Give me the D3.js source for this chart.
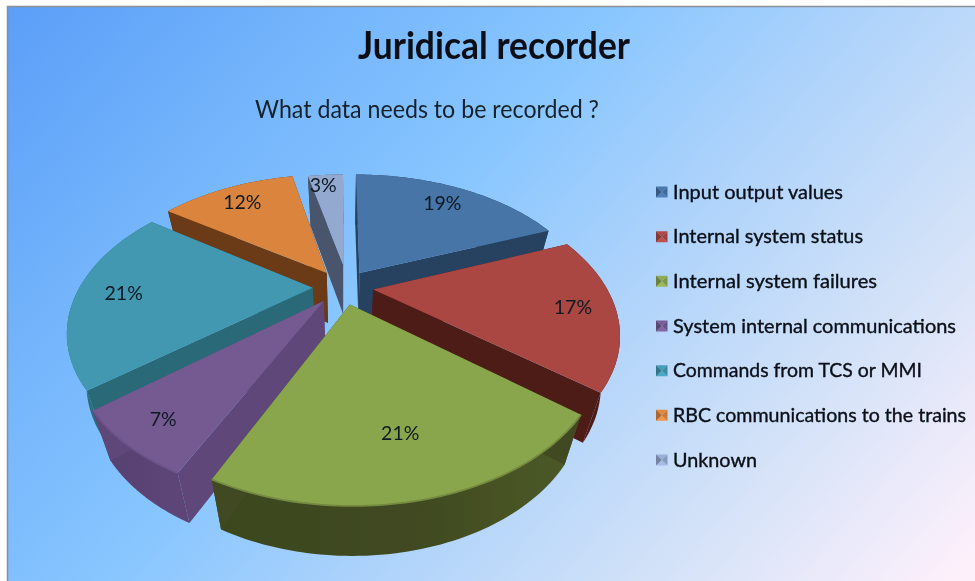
<!DOCTYPE html>
<html><head><meta charset="utf-8">
<script src="https://cdn.jsdelivr.net/npm/d3@7"></script>
<style>html,body{margin:0;padding:0;background:#fff}svg{display:block}</style>
</head><body><svg id="c" width="975" height="581"></svg>
<script>
// ---- data ----
const categories = ["Input output values","Internal system status","Internal system failures","System internal communications","Commands from TCS or MMI","RBC communications to the trains","Unknown"];
const values = [19,17,21.3,7,20.7,12,3.4];
const labels = ["19%","17%","21%","7%","21%","12%","3%"];
const topColors  = ["#4674a8","#aa4643","#8aa64e","#745a92","#4298b0","#db843d","#93a9cf"];
const wallColors = ["#254360","#4e1b18","#3f4a20","#5a4374","#2b6a78","#6a3a12","#48556c"];
const title = "Juridical recorder";
const subtitle = "What data needs to be recorded ?";

// ---- projection (tilted, perspective pie) ----
const W=975,H=581, cx=343, cy=287, A=233, B=0.28, C=133;
const depth=50, shrink=0.93, vx=346;
const explode=[.13,.13,.13,.13,.13,.13,.18];
const radius=[1,1,1,1,1,1,.93];
const labelR=[.80,.83,.73,.85,.80,.815,.81];
const paint=[6,5,0,4,1,3,2];            // back-to-front order

function proj(u,v){const s=1+B*v;return [cx+A*u/s, cy-C*v/s];}
function low(p){return [vx+(p[0]-vx)*shrink, p[1]+depth];}

const svg=d3.select("#c");
const defs=svg.append("defs");
const bg=defs.append("linearGradient").attr("id","bg").attr("gradientUnits","userSpaceOnUse")
  .attr("x1",60).attr("y1",-60).attr("x2",880).attr("y2",660);
[[0,"#5a9ef8"],[.2,"#71b2fb"],[.42,"#88c6ff"],[.6,"#aed3fb"],[.78,"#d0e1f8"],[1,"#fdf0fb"]]
  .forEach(([o,c])=>bg.append("stop").attr("offset",o).attr("stop-color",c));
defs.append("filter").attr("id","soft").attr("x","-5%").attr("y","-5%").attr("width","110%").attr("height","110%")
  .append("feGaussianBlur").attr("stdDeviation",0.55);
defs.append("filter").attr("id","softText").append("feGaussianBlur").attr("stdDeviation",0.3);

svg.append("rect").attr("x",7.5).attr("y",6.5).attr("width",W).attr("height",H)
  .attr("fill","url(#bg)").attr("stroke","#8a8f98").attr("stroke-width",1.5);

const pie=d3.pie().sort(null).value(d=>d);
const arcs=pie(values);
const line=d3.line();
const color=d3.scaleOrdinal(d3.range(values.length),topColors);
const wall=d3.scaleOrdinal(d3.range(values.length),wallColors);

const gPie=svg.append("g").attr("filter","url(#soft)");
function dir(a){return [Math.sin(a),Math.cos(a)];}

paint.forEach(i=>{
  const a=arcs[i], mid=(a.startAngle+a.endAngle)/2, [mx,my]=dir(mid), e=explode[i], R=radius[i];
  const ox = i===6 ? 0 : e*mx, oy = e*my;
  const apex=proj(ox,oy);
  const angs=d3.range(0,61).map(k=>a.startAngle+(a.endAngle-a.startAngle)*k/60);
  const rim=angs.map(t=>{const [s,c]=dir(t);return proj(ox+R*s,oy+R*c);});
  const rimLow=rim.map(low);
  const apexLow=low(apex);
  const gid="w"+i, g=defs.append("linearGradient").attr("id",gid).attr("gradientUnits","userSpaceOnUse")
    .attr("x1",rim[0][0]).attr("x2",rim[60][0]).attr("y1",0).attr("y2",0);
  const wc=d3.color(wall(i));
  g.append("stop").attr("offset",0).attr("stop-color",i===2?wc.brighter(.55):wc.brighter(.1));
  g.append("stop").attr("offset",.45).attr("stop-color",wc);
  g.append("stop").attr("offset",1).attr("stop-color",wc.darker(.1));
  gPie.append("path").attr("d",line(rim.concat(rimLow.slice().reverse()))+"Z").attr("fill",`url(#${gid})`);
  const sideCol=(i===3)?d3.color(wall(i)).brighter(.12):wall(i);
  gPie.append("path").attr("d",line([apex,rim[0],rimLow[0],apexLow])+"Z").attr("fill",sideCol);
  gPie.append("path").attr("d",line([apex,rim[60],rimLow[60],apexLow])+"Z").attr("fill",sideCol);
  gPie.append("path").attr("d",line([apex].concat(rim))+"Z").attr("fill",color(i));
  if(i===2||i===3){
    gPie.append("path").attr("d",line(rim)).attr("fill","none")
      .attr("stroke",d3.interpolateRgb(color(i),wall(i))(.3)).attr("stroke-width",1.8);
  }
});

// data labels
const gLab=svg.append("g").attr("font-family","Lato, 'Open Sans', sans-serif").attr("font-size",19.5).attr("fill","#101a22").attr("text-anchor","middle").attr("filter","url(#softText)");
arcs.forEach((a,i)=>{
  const mid=(a.startAngle+a.endAngle)/2,[mx,my]=dir(mid),e=explode[i];
  const ox = i===6 ? -.02 : e*mx, oy=e*my, r=labelR[i];
  const p=proj(ox+r*mx,oy+r*my);
  gLab.append("text").attr("x",p[0]-.5).attr("y",p[1]+7.5).text(labels[i]);
});

// titles
const fit=(sel,x,w)=>sel.attr("x",x).attr("textLength",w).attr("lengthAdjust","spacingAndGlyphs");
fit(svg.append("text").attr("y",59).attr("font-family","Lato, sans-serif").attr("font-weight",700).attr("font-size",38).attr("fill","#0a0f18").attr("filter","url(#softText)").text(title),358,272);
fit(svg.append("text").attr("y",118).attr("font-family","Lato, sans-serif").attr("font-size",25).attr("fill","#16202c").attr("filter","url(#softText)").text(subtitle),255,344);

// legend
const ly=d3.scalePoint().domain(d3.range(categories.length)).range([192,460]);
const legendW=[170,190,204,283,249,293,84];
const gLeg=svg.append("g");
categories.forEach((c,i)=>{
  const y=ly(i), x0=656, x1=667.5, y0=y-5.5, y1=y+5.5, mx=(x0+x1)/2, base=d3.color(topColors[i]);
  const tri=(pts,col)=>gLeg.append("path").attr("d",line(pts)+"Z").attr("fill",col);
  tri([[x0,y0],[x1,y0],[mx,y]],base.brighter(.1));
  tri([[x0,y1],[x1,y1],[mx,y]],base.brighter(.3));
  tri([[x0,y0],[x0,y1],[mx,y]],base.darker(.7));
  tri([[x1,y0],[x1,y1],[mx,y]],base.darker(.25));
  fit(gLeg.append("text").attr("y",y+6.5).attr("font-family","Lato, sans-serif").attr("font-size",19).attr("fill","#0a0f18").attr("stroke","#0a0f18").attr("stroke-width",.35).attr("filter","url(#softText)").text(c),673,legendW[i]);
});
</script></body></html>
